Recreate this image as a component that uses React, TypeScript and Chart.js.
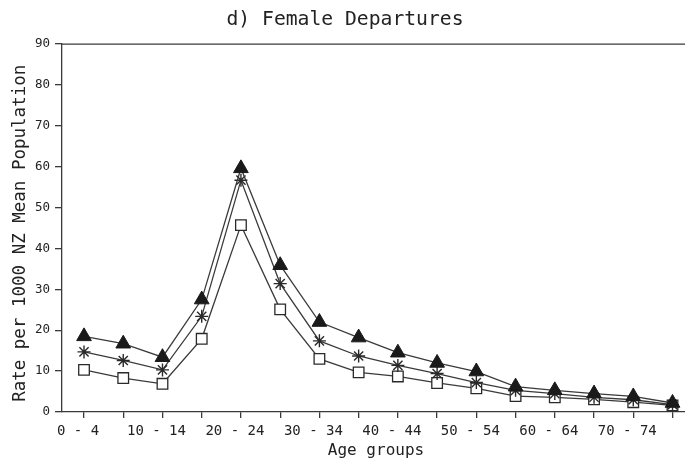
import React, { useEffect, useRef } from 'react';
import { Chart, registerables } from 'chart.js';

Chart.register(...registerables);

const ageGroups = [
  '0 - 4', '5 - 9', '10 - 14', '15 - 19', '20 - 24', '25 - 29', '30 - 34', '35 - 39',
  '40 - 44', '45 - 49', '50 - 54', '55 - 59', '60 - 64', '65 - 69', '70 - 74', '75 +',
];
const xTickLabels = [
  '0 - 4', '', '10 - 14', '', '20 - 24', '', '30 - 34', '',
  '40 - 44', '', '50 - 54', '', '60 - 64', '', '70 - 74', '',
];
const yMin = 0;
const yMax = 90;
const yStep = 10;

const triangleSeries = [18.5, 16.7, 13.4, 27.5, 59.6, 35.9, 22.0, 18.2, 14.5, 12.0, 9.9, 6.2, 5.3, 4.5, 3.8, 2.2];
const starSeries = [14.7, 12.6, 10.3, 23.4, 56.7, 31.4, 17.4, 13.7, 11.4, 9.4, 7.2, 5.3, 4.5, 3.6, 3.0, 1.8];
const squareSeries = [10.3, 8.3, 6.9, 17.9, 45.7, 25.1, 13.0, 9.7, 8.7, 7.1, 5.8, 3.9, 3.6, 3.1, 2.4, 1.6];

const FONT = "'DejaVu Sans Mono', monospace";
const INK = '#222';
const LINE = '#3a3a3a';

const framePlugin = {
  id: 'frame',
  beforeDatasetsDraw(chart: any) {
    const { ctx, chartArea } = chart;
    const { left, top, right, bottom } = chartArea;
    ctx.save();
    ctx.strokeStyle = LINE;
    ctx.lineWidth = 1.3;
    ctx.beginPath();
    ctx.moveTo(left, top);
    ctx.lineTo(right, top);
    ctx.lineTo(right, bottom);
    ctx.stroke();
    ctx.restore();
  },
};

export default function App() {
  const canvasRef = useRef<HTMLCanvasElement | null>(null);

  useEffect(() => {
    const canvas = canvasRef.current;
    if (!canvas) return;
    const toPoints = (arr: number[]) => arr.map((v, i) => ({ x: i, y: v }));
    const chart = new Chart(canvas, {
      type: 'line',
      data: {
        datasets: [
          {
            label: 'Triangles',
            data: toPoints(triangleSeries),
            borderColor: LINE,
            borderWidth: 1.3,
            pointStyle: 'triangle',
            pointRadius: 8.5,
            pointBackgroundColor: '#1a1a1a',
            pointBorderColor: '#1a1a1a',
            pointBorderWidth: 1,
            tension: 0,
          },
          {
            label: 'Stars',
            data: toPoints(starSeries),
            borderColor: LINE,
            borderWidth: 1.3,
            pointStyle: 'star',
            pointRadius: 6.5,
            pointBackgroundColor: '#fff',
            pointBorderColor: '#2a2a2a',
            pointBorderWidth: 1.4,
            tension: 0,
          },
          {
            label: 'Squares',
            data: toPoints(squareSeries),
            borderColor: LINE,
            borderWidth: 1.3,
            pointStyle: 'rect',
            pointRadius: 7.5,
            pointBackgroundColor: '#fff',
            pointBorderColor: '#2a2a2a',
            pointBorderWidth: 1.3,
            tension: 0,
          },
        ],
      },
      options: {
        animation: false,
        responsive: false,
        events: [],
        layout: { padding: { left: 0, right: 32, top: 0, bottom: 0 } },
        plugins: {
          legend: { display: false },
          tooltip: { enabled: false },
          title: {
            display: true,
            text: 'd) Female Departures',
            color: INK,
            font: { family: FONT, size: 19.7, weight: 'normal' },
            padding: { top: 8, bottom: 12.4 },
          },
        },
        scales: {
          x: {
            type: 'linear',
            min: -0.561,
            max: 15.446,
            afterBuildTicks: (scale: any) => {
              scale.ticks = ageGroups.map((_, i) => ({ value: i }));
            },
            afterFit: (scale: any) => {
              scale.height = 54;
            },
            ticks: {
              autoSkip: false,
              maxRotation: 0,
              minRotation: 0,
              labelOffset: -6,
              padding: 5,
              color: INK,
              font: { family: FONT, size: 14 },
              callback: (value: any) => xTickLabels[value] ?? '',
            },
            grid: {
              drawOnChartArea: false,
              drawTicks: true,
              tickLength: 6,
              color: LINE,
              lineWidth: 1.3,
            },
            border: { display: true, color: LINE, width: 1.3 },
            title: {
              display: true,
              text: 'Age groups',
              color: INK,
              font: { family: FONT, size: 16 },
              padding: { top: 0, bottom: 6 },
            },
          },
          y: {
            min: yMin,
            max: yMax,
            afterFit: (scale: any) => {
              scale.width = 62;
            },
            ticks: {
              stepSize: yStep,
              padding: 5,
              color: INK,
              font: { family: FONT, size: 12.5 },
            },
            grid: {
              drawOnChartArea: false,
              drawTicks: true,
              tickLength: 7,
              color: LINE,
              lineWidth: 1.3,
            },
            border: { display: true, color: LINE, width: 1.3 },
            title: {
              display: true,
              text: 'Rate per 1000 NZ Mean Population ',
              color: INK,
              font: { family: FONT, size: 17.5 },
              padding: { top: 10, bottom: 0 },
            },
          },
        },
      },
      plugins: [framePlugin],
    } as any);
    return () => chart.destroy();
  }, []);

  return (
    <div
      style={{
        position: 'fixed',
        left: 0,
        top: 0,
        width: 685,
        height: 466,
        overflow: 'hidden',
        background: '#fff',
      }}
    >
      <canvas ref={canvasRef} width={722} height={466} style={{ display: 'block' }} />
    </div>
  );
}
